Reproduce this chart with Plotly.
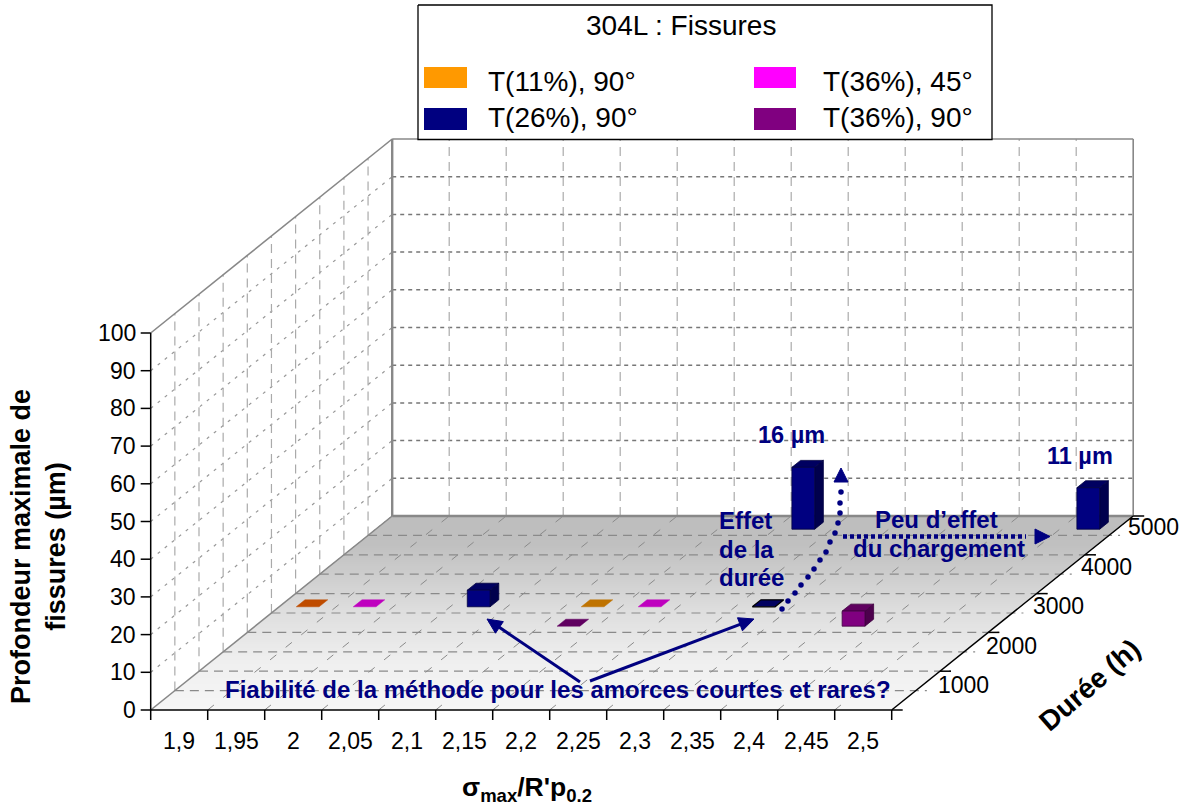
import math
import plotly.graph_objects as go

# ---------- data ----------
stress_labels = ["1,9", "1,95", "2", "2,05", "2,1", "2,15", "2,2", "2,25", "2,3", "2,35", "2,4", "2,45", "2,5"]
duration_labels = [1000, 2000, 3000, 4000, 5000]
depth_ticks = list(range(0, 101, 10))

t11a_stress = [1.9]
t11a_duration = [3000]
t11a_depth = [0]
t11b_stress = [2.15]
t11b_duration = [3000]
t11b_depth = [0]
t26_stress = [2.05, 2.3, 2.25, 2.5]
t26_duration = [3000, 3000, 5000, 5000]
t26_depth = [4.4, 0, 16.4, 11]
t36_45_stress = [1.95, 2.2]
t36_45_duration = [3000, 3000]
t36_45_depth = [0, 0]
t36_90_stress = [2.15, 2.4]
t36_90_duration = [2500, 2500]
t36_90_depth = [0, 4]

# ---------- oblique projection (the chart's 3D scale) ----------
X0, Y0 = 150.7, 710.0
CAT_W, DX, DY, VAL = 57.0, 24.15, 19.4, 3.77
NDEPTH = 10


def px(c, p, v=0.0):
    return X0 + c * CAT_W + p * DX


def py(c, p, v=0.0):
    return Y0 - p * DY - v * VAL


def segs(pairs):
    xs, ys = [], []
    for a, b in pairs:
        xs += [px(*a), px(*b), None]
        ys += [py(*a), py(*b), None]
    return xs, ys


fig = go.Figure()


def lines(pairs, color, width, dash="solid"):
    xs, ys = segs(pairs)
    fig.add_trace(go.Scatter(x=xs, y=ys, mode="lines", hoverinfo="skip",
                             line=dict(color=color, width=width, dash=dash)))


NC = len(stress_labels)
# floor gradient
stops = [(0.0, 0xF6), (0.25, 0xEF), (0.5, 0xDE), (0.75, 0xC8), (0.85, 0xC0), (1.0, 0xBD)]


def grey(t):
    for (a, ga), (b, gb) in zip(stops, stops[1:]):
        if t <= b:
            g = round(ga + (gb - ga) * (t - a) / (b - a))
            return f"rgb({g},{g},{g})"
    return "rgb(189,189,189)"


shapes = []
N = 97
for i in range(N):
    p = NDEPTH * i / N
    path = (f"M{px(0, p)},{py(0, p)} L{px(NC, p)},{py(0, p)} "
            f"L{px(NC, NDEPTH)},{py(0, NDEPTH)} L{px(0, NDEPTH)},{py(0, NDEPTH)} Z")
    shapes.append(dict(type="path", path=path, xref="x", yref="y", layer="below",
                       fillcolor=grey(i / N), line=dict(width=0)))

# gridlines
lines([((0, NDEPTH, v), (NC, NDEPTH, v)) for v in range(10, 100, 10)], "#777777", 1.5, "4px,4px")
lines([((0, 0, v), (0, NDEPTH, v)) for v in range(10, 100, 10)], "#999999", 1.2, "3px,6px")
lines([((c, NDEPTH, 0), (c, NDEPTH, 100)) for c in range(1, NC)], "#aaaaaa", 1.2, "9px,6px")
lines([((0, p, 0), (0, p, 100)) for p in range(1, NDEPTH)], "#aaaaaa", 1.2, "9px,6px")
lines([((0, p, 0), (NC + 11 / CAT_W, p, 0)) for p in range(1, NDEPTH)], "#8a8a8a", 1.2, "9px,6px")
lines([((c, 0, 0), (c, NDEPTH, 0)) for c in range(1, NC)], "#8a8a8a", 1.0, "8px,12px")

# wall frame
lines([((0, 0, 0), (0, NDEPTH, 0)), ((0, 0, 100), (0, NDEPTH, 100)),
       ((0, NDEPTH, 100), (NC, NDEPTH, 100)), ((NC, NDEPTH, 0), (NC, NDEPTH, 100))], "#888888", 1.6)
lines([((0, NDEPTH, 0), (0, NDEPTH, 100)), ((0, NDEPTH, 0), (NC, NDEPTH, 0))], "#888888", 2.4)

# axes
lines([((0, 0, 0), (0, 0, 100)), ((0, 0, 0), (NC, 0, 0)), ((NC, 0, 0), (NC, NDEPTH, 0))], "#000000", 1.5)
xs, ys = [], []
for c in range(NC + 1):
    xs += [px(c, 0), px(c, 0), None]
    ys += [Y0, Y0 + 10, None]
for v in depth_ticks:
    xs += [X0 - 10, X0, None]
    ys += [py(0, 0, v), py(0, 0, v), None]
for p in range(0, NDEPTH + 1, 2):
    xs += [px(NC, p), px(NC, p) + 11, None]
    ys += [py(0, p), py(0, p), None]
fig.add_trace(go.Scatter(x=xs, y=ys, mode="lines", hoverinfo="skip", line=dict(color="#000000", width=1.5)))


# ---------- bars ----------
def scale(rgb, k):
    return "rgb(%d,%d,%d)" % tuple(round(v * k) for v in rgb)


HW, HD = 0.2, 0.18


def poly(pts, color, edge, ew):
    xs = [px(*q) for q in pts] + [px(*pts[0])]
    ys = [py(*q) for q in pts] + [py(*pts[0])]
    fig.add_trace(go.Scatter(x=xs, y=ys, mode="lines", fill="toself", fillcolor=color, hoverinfo="skip",
                             line=dict(color=edge, width=ew)))


def bar(stress, duration, depth, rgb, edge_k):
    c = (stress - 1.9) / 0.05 + 0.5
    p = duration / 500 - 0.5
    l, r, f, b = c - HW, c + HW, p - HD, p + HD
    if depth <= 0:
        edge = "#000000" if rgb == NAVY else scale(rgb, 0.75)
        poly([(l, f), (r, f), (r, b), (l, b)], scale(rgb, 0.75), edge, 1.2 if rgb == NAVY else 0.5)
        return
    e = scale(rgb, edge_k)
    poly([(r, f, 0), (r, b, 0), (r, b, depth), (r, f, depth)], scale(rgb, 0.6), e, 0.8)
    poly([(l, f, depth), (r, f, depth), (r, b, depth), (l, b, depth)], scale(rgb, 0.75), e, 0.8)
    poly([(l, f, 0), (r, f, 0), (r, f, depth), (l, f, depth)], scale(rgb, 1.0), e, 0.8)


ORANGE_A, ORANGE, NAVY, MAGENTA, PURPLE = (255, 102, 0), (255, 153, 0), (0, 0, 128), (255, 0, 255), (128, 0, 128)
series = [
    (t26_stress, t26_duration, t26_depth, NAVY),
    (t11a_stress, t11a_duration, t11a_depth, ORANGE_A),
    (t11b_stress, t11b_duration, t11b_depth, ORANGE),
    (t36_45_stress, t36_45_duration, t36_45_depth, MAGENTA),
    (t36_90_stress, t36_90_duration, t36_90_depth, PURPLE),
]
for st, du, de, col in series:
    for s, d, v in sorted(zip(st, du, de), key=lambda r: -r[1]):
        bar(s, d, v, col, 0.5)


# ---------- legend box ----------
def rect(x0, y0, x1, y1, fill, line="rgba(0,0,0,0)", lw=0):
    fig.add_trace(go.Scatter(x=[x0, x1, x1, x0, x0], y=[y0, y0, y1, y1, y0], mode="lines", fill="toself",
                             fillcolor=fill, hoverinfo="skip", line=dict(color=line, width=lw)))


rect(418, 5, 992, 139.5, "#ffffff", "#000000", 1.3)
rect(424, 67, 467, 88, "#FF9900")
rect(424, 108, 467, 130, "#000080")
rect(754, 67, 796, 88, "#FF00FF")
rect(754, 108, 796, 130, "#800080")

# ---------- callout arrows ----------
NAVYC = "#000080"


def head(tx, ty, ang, length=15, half=7):
    ca, sa = math.cos(ang), math.sin(ang)
    bx, by = tx - length * ca, ty - length * sa
    hx = [tx, bx - half * sa, bx + half * sa, tx]
    hy = [ty, by + half * ca, by - half * ca, ty]
    fig.add_trace(go.Scatter(x=hx, y=hy, mode="lines", fill="toself", fillcolor=NAVYC,
                             line=dict(color=NAVYC, width=1), hoverinfo="skip"))


for hx, hy, tx, ty in [(487, 619, 580, 682), (754, 619, 590, 681)]:
    a = math.atan2(hy - ty, hx - tx)
    fig.add_trace(go.Scatter(x=[tx, hx - 10 * math.cos(a)], y=[ty, hy - 10 * math.sin(a)], mode="lines",
                             line=dict(color=NAVYC, width=3), hoverinfo="skip"))
    head(hx, hy, a)

dots_x = [782, 788, 795, 801, 808, 814, 820, 826, 830, 835, 838, 840, 840, 841]
dots_y = [609, 601, 593, 585, 577, 569, 560, 552, 542, 533, 523, 513, 503, 492]
fig.add_trace(go.Scatter(x=dots_x, y=dots_y, mode="markers", hoverinfo="skip",
                         marker=dict(color=NAVYC, size=5.5)))
fig.add_trace(go.Scatter(x=[834, 848, 841, 834], y=[482, 482, 468, 482], mode="lines", fill="toself",
                         fillcolor=NAVYC, line=dict(color=NAVYC, width=1), hoverinfo="skip"))
fig.add_trace(go.Scatter(x=[843, 1026], y=[536.5, 536.5], mode="lines", hoverinfo="skip",
                         line=dict(color=NAVYC, width=4.5, dash="4px,3px")))
fig.add_trace(go.Scatter(x=[1035, 1050, 1035, 1035], y=[529, 536.5, 544, 529], mode="lines", fill="toself",
                         fillcolor=NAVYC, line=dict(color=NAVYC, width=1), hoverinfo="skip"))

# ---------- text ----------
FONT = "Liberation Sans, Arial, sans-serif"
ann = []


def text(x, y, s, size, color="#000000", bold=False, anchor="center", angle=0, align="center"):
    ann.append(dict(x=x, y=y, xref="x", yref="y", text=f"<b>{s}</b>" if bold else s, showarrow=False,
                    xanchor=anchor, yanchor="middle", align=align, textangle=angle,
                    font=dict(family=FONT, size=size, color=color)))


for i, lab in enumerate(stress_labels):
    text(px(i + 0.5, 0), 741, lab, 23)
for v in depth_ticks:
    text(138, py(0, 0, v), str(v), 23, anchor="right")
for k, d in enumerate(duration_labels):
    text(936 + 47.5 * k, 685 - 39.5 * k, str(d), 23, anchor="left")

text(681, 25, "304L : Fissures", 28)
text(486, 81, "T(11%), 90°", 28, anchor="left")
text(486, 117, "T(26%), 90°", 28, anchor="left")
text(821, 81, "T(36%), 45°", 28, anchor="left")
text(821, 117, "T(36%), 90°", 28, anchor="left")

text(38, 547, "Profondeur maximale de<br>fissures (µm)", 27, bold=True, angle=-90)
text(527, 789, "σ<sub>max</sub>/R'p<sub>0.2</sub>", 26.5, bold=True)
text(1089, 685, "Durée (h)", 28, bold=True, angle=-41)

text(791, 435, "16 µm", 23.5, NAVYC, True)
text(1080, 456, "11 µm", 23.5, NAVYC, True)
text(717, 520, "Effet", 24, NAVYC, True, anchor="left")
text(717, 549, "de la", 24, NAVYC, True, anchor="left")
text(717, 577, "durée", 24, NAVYC, True, anchor="left")
text(936, 519, "Peu d’effet", 24, NAVYC, True)
text(939, 548, "du chargement", 24, NAVYC, True)
text(557.5, 689, "Fiabilité de la méthode pour les amorces courtes et rares?", 24, NAVYC, True)

fig.update_layout(
    width=1189, height=805, margin=dict(l=0, r=0, t=0, b=0),
    paper_bgcolor="#ffffff", plot_bgcolor="#ffffff", showlegend=False,
    xaxis=dict(range=[0, 1189], visible=False, fixedrange=True),
    yaxis=dict(range=[805, 0], visible=False, fixedrange=True),
    shapes=shapes, annotations=ann,
)
fig.write_html("out.html", config={"displayModeBar": False},
               post_script="document.body.style.margin='0';document.body.style.overflow='hidden';")
